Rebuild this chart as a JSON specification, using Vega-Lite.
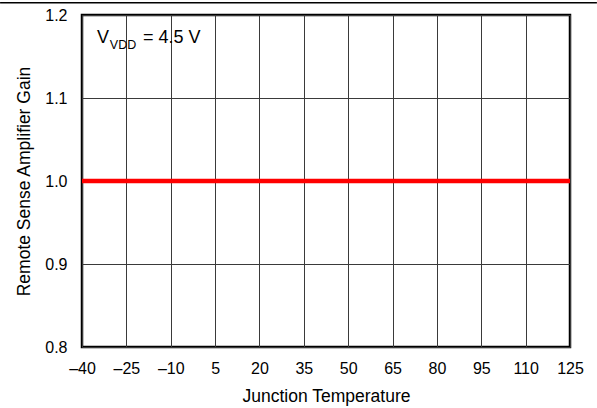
{
  "$schema": "https://vega.github.io/schema/vega-lite/v6.json",
  "width": 488,
  "height": 332,
  "autosize": {"type": "none"},
  "padding": {"left": 82, "top": 15, "right": 27, "bottom": 61},
  "background": "white",
  "config": {
    "font": "Liberation Sans",
    "view": {"stroke": "black", "strokeWidth": 2.5},
    "axis": {
      "labelFont": "Liberation Sans",
      "titleFont": "Liberation Sans",
      "labelFontSize": 16,
      "titleFontSize": 17.5,
      "titleFontWeight": "normal",
      "labelColor": "black",
      "titleColor": "black",
      "domain": false,
      "ticks": false,
      "labelFlush": false,
      "gridColor": "#3a3a3a",
      "gridWidth": 1,
      "gridOpacity": 1
    }
  },
  "layer": [
    {
      "data": {
        "values": [
          {"temp": -40, "gain": 1.0},
          {"temp": -25, "gain": 1.0},
          {"temp": -10, "gain": 1.0},
          {"temp": 5, "gain": 1.0},
          {"temp": 20, "gain": 1.0},
          {"temp": 35, "gain": 1.0},
          {"temp": 50, "gain": 1.0},
          {"temp": 65, "gain": 1.0},
          {"temp": 80, "gain": 1.0},
          {"temp": 95, "gain": 1.0},
          {"temp": 110, "gain": 1.0},
          {"temp": 125, "gain": 1.0}
        ]
      },
      "mark": {"type": "line", "color": "#ff0000", "strokeWidth": 4.5},
      "encoding": {
        "x": {
          "field": "temp",
          "type": "quantitative",
          "scale": {"domain": [-40, 125], "nice": false, "zero": false},
          "axis": {
            "values": [-40, -25, -10, 5, 20, 35, 50, 65, 80, 95, 110, 125],
            "title": "Junction Temperature",
            "labelPadding": 13,
            "titlePadding": 11,
            "labelExpr": "replace(datum.label, '−', '–')"
          }
        },
        "y": {
          "field": "gain",
          "type": "quantitative",
          "scale": {"domain": [0.8, 1.2], "nice": false, "zero": false},
          "axis": {
            "values": [0.8, 0.9, 1.0, 1.1, 1.2],
            "format": ".1f",
            "title": "Remote Sense Amplifier Gain",
            "labelPadding": 15,
            "titlePadding": 11
          }
        }
      }
    },
    {
      "data": {"values": [{}]},
      "mark": {"type": "rule", "color": "black", "strokeWidth": 1.5, "clip": false},
      "encoding": {"x": {"datum": -67.7}, "x2": {"datum": 134.1}, "y": {"datum": 1.2148}}
    },
    {
      "data": {"values": [{}]},
      "mark": {"type": "text", "text": "V", "fontSize": 18, "align": "left", "baseline": "alphabetic", "color": "black"},
      "encoding": {"x": {"datum": -34.9}, "y": {"datum": 1.1663}}
    },
    {
      "data": {"values": [{}]},
      "mark": {"type": "text", "text": "VDD", "fontSize": 12.5, "align": "left", "baseline": "alphabetic", "color": "black"},
      "encoding": {"x": {"datum": -30.6}, "y": {"datum": 1.1585}}
    },
    {
      "data": {"values": [{}]},
      "mark": {"type": "text", "text": "= 4.5 V", "fontSize": 18, "align": "left", "baseline": "alphabetic", "color": "black"},
      "encoding": {"x": {"datum": -19.4}, "y": {"datum": 1.1663}}
    }
  ]
}
